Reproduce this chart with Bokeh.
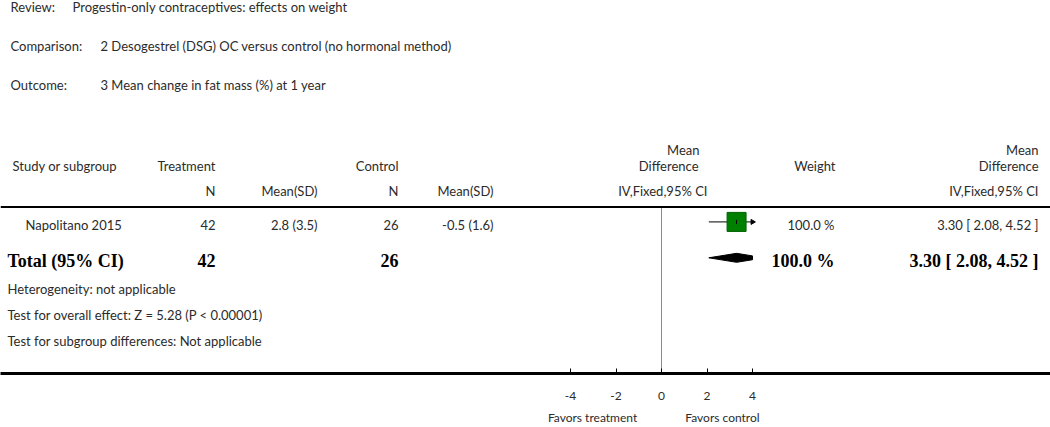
import numpy as np
from bokeh.plotting import figure
from bokeh.models import Range1d, LinearAxis, FixedTicker, Label, Span
from bokeh.embed import file_html
from bokeh.resources import INLINE

# ---------------- data ----------------
review = "Progestin-only contraceptives: effects on weight"
comparison = "2 Desogestrel (DSG) OC versus control (no hormonal method)"
outcome = "3 Mean change in fat mass (%) at 1 year"

studies = ["Napolitano 2015"]
trt_n = [42]
trt_mean_sd = ["2.8 (3.5)"]
ctl_n = [26]
ctl_mean_sd = ["-0.5 (1.6)"]
md = [3.30]
md_lo = [2.08]
md_hi = [4.52]
weights = [100.0]

total_trt_n = 42
total_ctl_n = 26
total_md = 3.30
total_lo = 2.08
total_hi = 4.52
total_weight = 100.0

footer = ["Heterogeneity: not applicable",
          "Test for overall effect: Z = 5.28 (P < 0.00001)",
          "Test for subgroup differences: Not applicable"]

ticks = [-4, -2, 0, 2, 4]
favors = ["Favors treatment", "Favors control"]
favors_pos = [-3.03, 2.68]

# ---------------- layout ----------------
W, H = 1050, 427
FH = 374
BOTTOM = H - FH
PX_PER_UNIT = 22.75
ZERO_PX = 661
XMIN, XMAX = min(ticks), max(ticks)

FONT = "Lato"
SERIF = "Liberation Serif"
TXT = "#2b2b2b"
FS = "13px"
BFS = "18px"

p = figure(width=W, height=H, output_backend="svg", toolbar_location=None,
           x_range=Range1d(-ZERO_PX / PX_PER_UNIT, (W - ZERO_PX) / PX_PER_UNIT),
           y_range=Range1d(FH, 0),
           x_axis_location=None, y_axis_location=None,
           min_border_left=0, min_border_right=0, min_border_top=0,
           min_border_bottom=BOTTOM)
p.grid.visible = False
p.outline_line_color = None
p.background_fill_color = "white"
p.border_fill_color = "white"

ax = LinearAxis(ticker=FixedTicker(ticks=ticks),
                major_label_overrides={t: str(t) for t in ticks})
ax.axis_line_width = 3
ax.axis_line_color = "black"
ax.major_tick_in = 5
ax.major_tick_out = 0
ax.major_tick_line_color = "black"
ax.major_tick_line_width = 1
ax.minor_tick_line_color = None
ax.major_label_standoff = 18
ax.major_label_text_font = FONT
ax.major_label_text_font_size = "12px"
ax.major_label_text_color = TXT
p.add_layout(ax, "below")

ax2 = LinearAxis(ticker=FixedTicker(ticks=favors_pos),
                 major_label_overrides={v: t for v, t in zip(favors_pos, favors)})
ax2.axis_line_color = None
ax2.major_tick_line_color = None
ax2.minor_tick_line_color = None
ax2.major_tick_in = 0
ax2.major_tick_out = 0
ax2.major_label_standoff = 7
ax2.major_label_text_font = FONT
ax2.major_label_text_font_size = "12px"
ax2.major_label_text_color = TXT
p.add_layout(ax2, "below")


def lab(text, x, y, align="left", font=FONT, size=FS, bold=False, color=TXT):
    p.add_layout(Label(x=x, y=y, x_units="screen", y_units="data", text=text,
                       text_font=font, text_font_size=size,
                       text_font_style="bold" if bold else "normal",
                       text_color=color, text_align=align,
                       text_baseline="middle"))


# title block
lab("Review:", 10, 7)
lab(review, 72, 7)
lab("Comparison:", 10, 46)
lab(comparison, 100, 46)
lab("Outcome:", 10, 85)
lab(outcome, 100, 85)

# column headers
Y_H0, Y_H1, Y_H2 = 150, 166, 191
lab("Study or subgroup", 12, Y_H1)
lab("Treatment", 215, Y_H1, "right")
lab("N", 215, Y_H2, "right")
lab("Mean(SD)", 317, Y_H2, "right")
lab("Control", 398, Y_H1, "right")
lab("N", 398, Y_H2, "right")
lab("Mean(SD)", 493, Y_H2, "right")
lab("Mean", 699, Y_H0, "right")
lab("Difference", 698, Y_H1, "right")
lab("IV,Fixed,95% CI", 707, Y_H2, "right")
lab("Weight", 835, Y_H1, "right")
lab("Mean", 1038, Y_H0, "right")
lab("Difference", 1038, Y_H1, "right")
lab("IV,Fixed,95% CI", 1038, Y_H2, "right")

Y_LINE = 207
p.add_layout(Span(location=Y_LINE, dimension="width", line_color="black", line_width=2))

# vertical line of no effect
p.segment(x0=[0], y0=[Y_LINE + 1], x1=[0], y1=[FH], line_color="#8a8a8a", line_width=1)

# study rows
Y_ROW0 = 225
ROW_STEP = 33
for i, s in enumerate(studies):
    yt = Y_ROW0 + i * ROW_STEP
    ym = yt - 3
    lab(s, 25, yt)
    lab(str(trt_n[i]), 215, yt, "right")
    lab(trt_mean_sd[i], 317, yt, "right")
    lab(str(ctl_n[i]), 398, yt, "right")
    lab(ctl_mean_sd[i], 493, yt, "right")
    lab(f"{weights[i]:.1f} %", 834, yt, "right")
    lab(f"{md[i]:.2f} [ {md_lo[i]:.2f}, {md_hi[i]:.2f} ]", 1038, yt, "right")
    x0 = max(md_lo[i], XMIN)
    x1 = min(md_hi[i], XMAX)
    p.segment(x0=[x0], y0=[ym], x1=[x1], y1=[ym], line_color="black", line_width=1)
    if md_hi[i] > XMAX:
        p.scatter(x=[XMAX], y=[ym], marker="triangle", size=5, angle=-np.pi / 2,
                  fill_color="black", line_color="black")
    if md_lo[i] < XMIN:
        p.scatter(x=[XMIN], y=[ym], marker="triangle", size=5, angle=np.pi / 2,
                  fill_color="black", line_color="black")
    p.scatter(x=[md[i]], y=[ym], marker="square", size=19,
              fill_color="#008000", line_color="#006000", line_width=1)
    p.segment(x0=[md[i]], y0=[ym - 2], x1=[md[i]], y1=[ym + 2], line_color="black", line_width=1)

# total row
Y_TOT = 261
lab("Total (95% CI)", 7, Y_TOT, font=SERIF, size=BFS, bold=True, color="black")
lab(str(total_trt_n), 215, Y_TOT, "right", font=SERIF, size=BFS, bold=True, color="black")
lab(str(total_ctl_n), 398, Y_TOT, "right", font=SERIF, size=BFS, bold=True, color="black")
lab(f"{total_weight:.1f} %", 834, Y_TOT, "right", font=SERIF, size=BFS, bold=True, color="black")
lab(f"{total_md:.2f} [ {total_lo:.2f}, {total_hi:.2f} ]", 1038, Y_TOT, "right",
    font=SERIF, size=BFS, bold=True, color="black")

yd = Y_TOT - 3
hh = 4.5
dxs = [max(total_lo, XMIN), total_md]
dys = [yd, yd - hh]
if total_hi > XMAX:
    f = (total_hi - XMAX) / (total_hi - total_md)
    dxs += [XMAX, XMAX]
    dys += [yd - hh * f, yd + hh * f]
else:
    dxs += [total_hi]
    dys += [yd]
dxs += [total_md]
dys += [yd + hh]
p.patch(x=dxs, y=dys, fill_color="black", line_color="black", line_width=1)

# footer lines
for j, t in enumerate(footer):
    lab(t, 7, 289 + j * 26)

open("out.html", "w").write(file_html(p, INLINE))
